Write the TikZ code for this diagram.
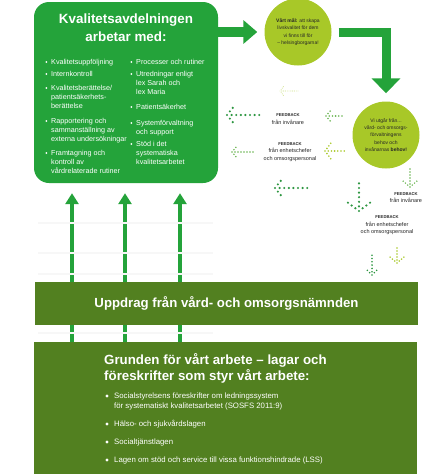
\documentclass[tikz,border=0pt]{standalone}
\usepackage{fontspec}
\setmainfont{Liberation Sans}
\usetikzlibrary{arrows.meta}

\definecolor{kvgreen}{RGB}{36,163,58}
\definecolor{uppdraggreen}{RGB}{82,128,32}
\definecolor{mallime}{RGB}{168,200,40}
\definecolor{fbmork}{RGB}{45,150,65}
\definecolor{fbmellan}{RGB}{105,180,80}

\tikzset{
  ruta/.style={fill=kvgreen, rounded corners=15pt, minimum width=184pt, minimum height=181pt, inner sep=0pt},
  rubrik/.style={text=white, align=center, inner sep=0pt, font=\fontsize{13.4}{18}\selectfont\bfseries},
  kvtext/.style={anchor=base west, inner sep=0pt, text=white, font=\fontsize{7.2}{9.2}\selectfont},
  grtext/.style={anchor=base west, inner sep=0pt, text=white, font=\fontsize{7.8}{10}\selectfont},
  malcirkel/.style={circle, fill=mallime, minimum size=67pt, inner sep=0pt, align=center, text=black!85, font=\fontsize{5}{7.3}\selectfont},
  fbtext/.style={align=center, inner sep=0pt, text=black!85, font=\fontsize{5.5}{7.5}\selectfont},
  tjockpil/.style={draw=kvgreen, line width=10pt},
  smalpil/.style={draw=kvgreen, line width=4pt, -{Triangle[length=11pt,width=13pt]}, shorten >=10pt},
  skarv/.style={draw=black!3, line width=1.5pt},
  uppdragruta/.style={fill=uppdraggreen, minimum width=383pt, minimum height=43pt, inner sep=0pt, text=white, font=\fontsize{13.2}{16}\selectfont\bfseries},
  grundruta/.style={fill=uppdraggreen, minimum width=383pt, minimum height=134pt, inner sep=0pt},
  prickar/.style n args={3}{draw=#1, line width=#2, line cap=round, dash pattern=on 0pt off #3}
}

\newcommand{\rader}[1]{\begin{tabular}[t]{@{}l@{}}#1\end{tabular}}
\newcommand{\kvpunkt}[4]{%
  \fill[white] (#1-4.6,#2-2.3) circle (1);
  \node[kvtext] (#3) at (#1,#2) {\rader{#4}};}
\newcommand{\grpunkt}[4]{%
  \fill[white] (#1-7,#2-2.8) circle (1.7);
  \node[grtext] (#3) at (#1,#2) {\rader{#4}};}
\newcommand{\fbpil}[5]{\draw[#1] (#2) -- ++(#3) (#2) -- ++(#4) (#2) -- ++(#5);}
\newcommand{\fbrub}{{\fontsize{4.2}{7.5}\selectfont\bfseries FEEDBACK}}

\begin{document}
\begin{tikzpicture}[x=1pt,y=-1pt]
\useasboundingbox (0,0) rectangle (425,474);

% kvalitetsavdelningen
\node[ruta] (kvalitet) at (126,92.5) {};
\node[rubrik] (kvrubrik) at (126,28) {Kvalitetsavdelningen\\arbetar med:};
\kvpunkt{51}{64.3}{l1}{Kvalitetsuppföljning}
\kvpunkt{51}{76.3}{l2}{Internkontroll}
\kvpunkt{51}{90.3}{l3}{Kvalitetsberättelse/\\patientsäkerhets-\\berättelse}
\kvpunkt{51}{123.3}{l4}{Rapportering och\\sammanställning av\\externa undersökningar}
\kvpunkt{51}{155.3}{l5}{Framtagning och\\kontroll av\\vårdrelaterade rutiner}
\kvpunkt{136}{64.3}{r1}{Processer och rutiner}
\kvpunkt{136}{76.3}{r2}{Utredningar enligt\\lex Sarah och\\lex Maria}
\kvpunkt{136}{109.3}{r3}{Patientsäkerhet}
\kvpunkt{136}{125.3}{r4}{Systemförvaltning\\och support}
\kvpunkt{136}{146.3}{r5}{Stöd i det\\systematiska\\kvalitetsarbetet}

% cirklar
\node[malcirkel] (mal) at (298,32) {\textbf{Vårt mål:} att skapa\\livskvalitet för dem\\vi finns till för\\– helsingborgarna!};
\node[malcirkel] (utgar) at (386,135) {Vi utgår från...\\vård- och omsorgs-\\förvaltningens\\behov och\\invånarnas \textbf{behov!}};

\draw[tjockpil, -{Triangle[length=14pt,width=23pt]}] (kvalitet.east |- mal) -- ([xshift=-7pt]mal.west);
\draw[tjockpil, line width=9pt, -{Triangle[length=15pt,width=28pt]}] ([xshift=7pt]mal.east) -| ([yshift=8pt]utgar.north);

% feedback
\node[fbtext] (fb1) at (288,119) {\fbrub\\från invånare};
\node[fbtext] (fb2) at (290,152) {\fbrub\\från enhetschefer\\och omsorgspersonal};
\node[fbtext] (fb3) at (406,197.5) {\fbrub\\från invånare};
\node[fbtext] (fb4) at (387,225.5) {\fbrub\\från enhetschefer\\och omsorgspersonal};

\fbpil{prickar={fbmork}{2.4pt}{4.6pt}}{227,115}{33,0}{8,-10}{8,10}
\fbpil{prickar={fbmellan}{1.8pt}{3.2pt}}{326,116}{18,0}{5,-6}{5,6}
\fbpil{prickar={fbmellan}{1.7pt}{3pt}}{232,152}{21,0}{5,-6}{5,6}
\fbpil{prickar={mallime}{1.8pt}{3.2pt}}{325,151}{21,0}{6,-8}{6,8}
\fbpil{prickar={fbmork}{2.4pt}{4.6pt}}{275,188}{33,0}{8,-10}{8,10}
\fbpil{prickar={fbmork}{2.4pt}{4.6pt}}{359,211}{0,-32}{-12,-9}{12,-9}
\fbpil{prickar={fbmellan}{1.6pt}{3pt}}{410,187}{0,-19}{-7,-6}{7,-6}
\fbpil{prickar={fbmork}{1.8pt}{3.3pt}}{372,275}{0,-20}{-7,-7}{7,-7}
\fbpil{prickar={mallime}{1.7pt}{3pt}}{397,263}{0,-18}{-7,-6}{7,-6}
\fbpil{prickar={mallime!70}{0.9pt}{1.8pt}}{280,91}{18,0}{4,-5}{4,5}

% grunden och uppdrag
\node[grundruta] (grunden) at (225.5,409) {};
\coordinate (x1) at (72,0);
\coordinate (x2) at (125,0);
\coordinate (x3) at (180,0);
\foreach \p in {x1,x2,x3}
  \draw[smalpil] (\p |- grunden.north) -- (\p |- kvalitet.south);
\foreach \y in {223,253,274,333}
  \draw[skarv] (38,\y) -- (213,\y);
\node[uppdragruta] (uppdrag) at (226.5,303.5) {Uppdrag från vård- och omsorgsnämnden};

\node[text=white, anchor=base west, inner sep=0pt, font=\fontsize{13.3}{16}\selectfont\bfseries] (grubrik) at (104,364) {\rader{Grunden för vårt arbete – lagar och\\föreskrifter som styr vårt arbete:}};
\grpunkt{114}{398.8}{g1}{Socialstyrelsens föreskrifter om ledningssystem\\för systematiskt kvalitetsarbetet (SOSFS 2011:9)}
\grpunkt{114}{426.8}{g2}{Hälso- och sjukvårdslagen}
\grpunkt{114}{444.8}{g3}{Socialtjänstlagen}
\grpunkt{114}{462.8}{g4}{Lagen om stöd och service till vissa funktionshindrade (LSS)}
\end{tikzpicture}
\end{document}
